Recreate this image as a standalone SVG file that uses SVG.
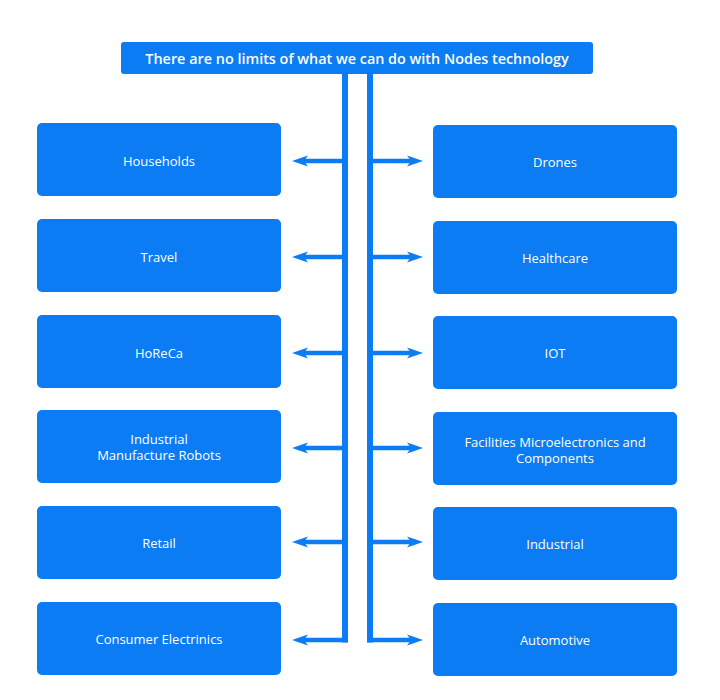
<svg xmlns="http://www.w3.org/2000/svg" width="720" height="700" viewBox="0 0 720 700">
<defs>
<style>
.box{fill:#0b7cf3;}
.t{fill:#ffffff;font-family:"Open Sans","Noto Sans","Liberation Sans",sans-serif;font-size:13px;text-anchor:middle;}
.title{font-size:14.4px;font-weight:600;}
.trunk{fill:none;stroke:#0b7cf3;stroke-width:6;stroke-linejoin:miter;}
.shaft{fill:none;stroke:#0b7cf3;stroke-width:4.5;}
.head{fill:#0b7cf3;}
</style>
<polygon id="hl" class="head" points="0,0 16,-5.5 12,0 16,5.5"/>
<polygon id="hr" class="head" points="0,0 -16,-5.5 -12,0 -16,5.5"/>
</defs>
<rect width="720" height="700" fill="#ffffff"/>

<g id="title">
<rect class="box" x="121" y="42" width="472" height="32" rx="3"/>
<text class="t title" x="357" y="64">There are no limits of what we can do with Nodes technology</text>
</g>

<g id="connectors">
<path class="trunk" d="M345,74 V642.5"/>
<path class="trunk" d="M370,74 V642.5"/>
<path class="shaft" d="M348,640 H300 M345,542 H300 M345,448 H300 M345,353 H300 M345,257 H300 M345,161 H300"/>
<path class="shaft" d="M367,640 H415 M370,542 H415 M370,448 H415 M370,353 H415 M370,257 H415 M370,161 H415"/>
<use href="#hl" x="292" y="161"/>
<use href="#hl" x="292" y="257"/>
<use href="#hl" x="292" y="353"/>
<use href="#hl" x="292" y="448"/>
<use href="#hl" x="292" y="542"/>
<use href="#hl" x="292" y="640"/>
<use href="#hr" x="423" y="161"/>
<use href="#hr" x="423" y="257"/>
<use href="#hr" x="423" y="353"/>
<use href="#hr" x="423" y="448"/>
<use href="#hr" x="423" y="542"/>
<use href="#hr" x="423" y="640"/>
</g>

<g id="households"><rect class="box" x="37" y="123" width="244" height="73" rx="5"/><text class="t" x="159" y="166">Households</text></g>
<g id="travel"><rect class="box" x="37" y="219" width="244" height="73" rx="5"/><text class="t" x="159" y="262">Travel</text></g>
<g id="horeca"><rect class="box" x="37" y="315" width="244" height="73" rx="5"/><text class="t" x="159" y="358">HoReCa</text></g>
<g id="industrial-robots"><rect class="box" x="37" y="410" width="244" height="73" rx="5"/><text class="t" x="159" y="444">Industrial<tspan x="159" dy="16">Manufacture Robots</tspan></text></g>
<g id="retail"><rect class="box" x="37" y="506" width="244" height="73" rx="5"/><text class="t" x="159" y="548">Retail</text></g>
<g id="consumer"><rect class="box" x="37" y="602" width="244" height="73" rx="5"/><text class="t" x="159" y="644">Consumer Electrinics</text></g>

<g id="drones"><rect class="box" x="433" y="125" width="244" height="73" rx="5"/><text class="t" x="555" y="167">Drones</text></g>
<g id="healthcare"><rect class="box" x="433" y="221" width="244" height="73" rx="5"/><text class="t" x="555" y="263">Healthcare</text></g>
<g id="iot"><rect class="box" x="433" y="316" width="244" height="73" rx="5"/><text class="t" x="555" y="358">IOT</text></g>
<g id="facilities"><rect class="box" x="433" y="412" width="244" height="73" rx="5"/><text class="t" x="555" y="447">Facilities Microelectronics and<tspan x="555" dy="16">Components</tspan></text></g>
<g id="industrial"><rect class="box" x="433" y="507" width="244" height="73" rx="5"/><text class="t" x="555" y="549">Industrial</text></g>
<g id="automotive"><rect class="box" x="433" y="603" width="244" height="73" rx="5"/><text class="t" x="555" y="645">Automotive</text></g>
</svg>
